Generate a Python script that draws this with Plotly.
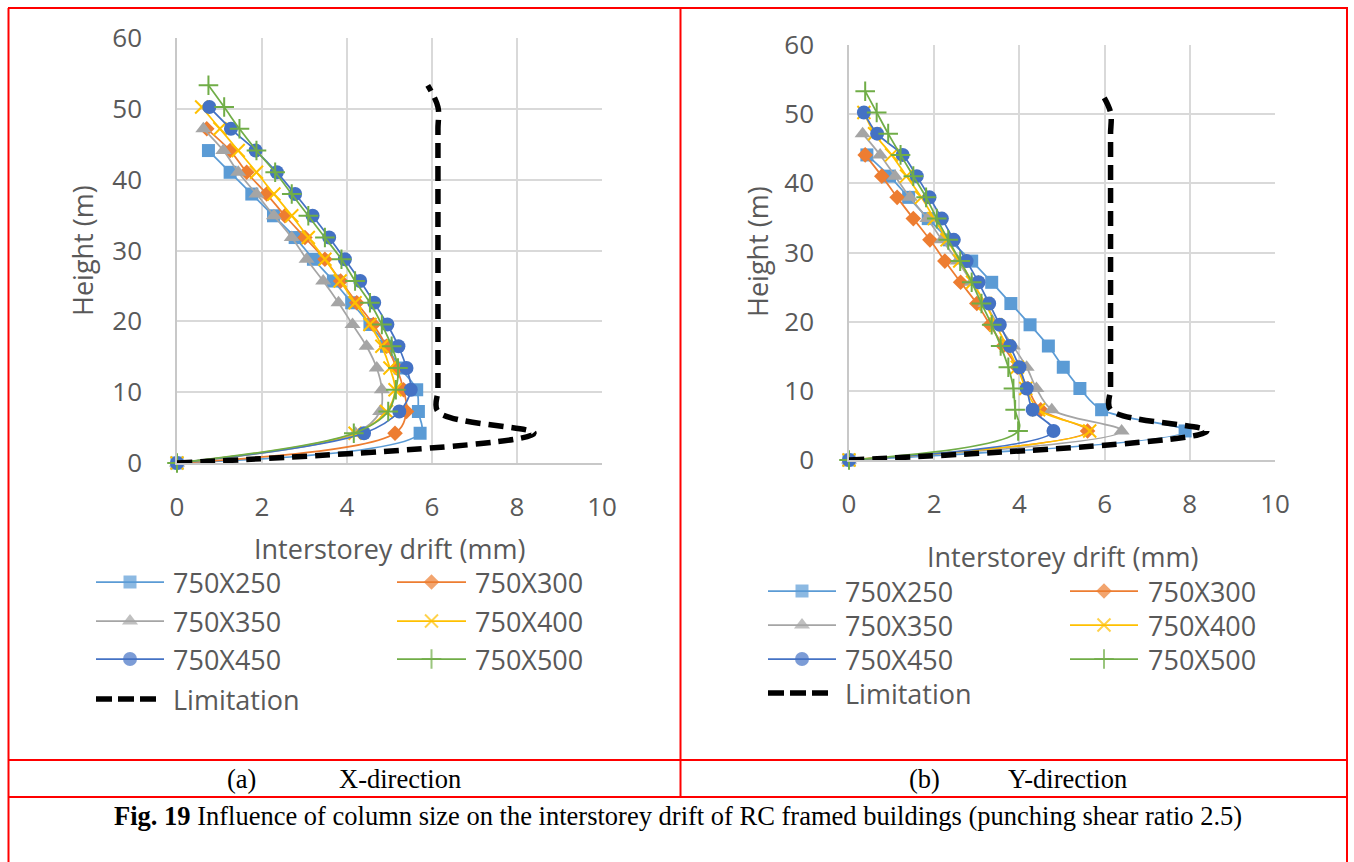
import plotly.graph_objects as go

# ---------------------------------------------------------------- data
# floor levels (m): 4.2 m ground storey, ~3.07 m typical storeys
height_m = [0, 4.2, 7.27, 10.34, 13.41, 16.48, 19.55, 22.62, 25.69, 28.76,
            31.83, 34.9, 37.97, 41.04, 44.11, 47.18, 50.25, 53.32]

series_names = ["750X250", "750X300", "750X350", "750X400", "750X450", "750X500"]

# interstorey drift (mm), X-direction
x_750x250 = [0, 5.72, 5.68, 5.64, 5.25, 4.93, 4.54, 4.11, 3.68, 3.21, 2.78, 2.27, 1.76, 1.25, 0.74]
x_750x300 = [0, 5.13, 5.40, 5.33, 5.17, 4.93, 4.62, 4.23, 3.85, 3.48, 3.01, 2.54, 2.11, 1.64, 1.25, 0.70]
x_750x350 = [0, 4.20, 4.78, 4.82, 4.70, 4.46, 4.13, 3.80, 3.44, 3.05, 2.70, 2.28, 1.87, 1.44, 1.09, 0.62]
x_750x400 = [0, 4.19, 4.93, 5.13, 5.01, 4.82, 4.54, 4.19, 3.84, 3.48, 3.09, 2.70, 2.28, 1.87, 1.44, 1.01, 0.58]
x_750x450 = [0, 4.40, 5.23, 5.50, 5.40, 5.21, 4.95, 4.64, 4.31, 3.95, 3.58, 3.19, 2.78, 2.35, 1.85, 1.27, 0.76]
x_750x500 = [0, 4.16, 4.97, 5.15, 5.20, 5.05, 4.82, 4.54, 4.19, 3.87, 3.48, 3.09, 2.70, 2.31, 1.87, 1.47, 1.11, 0.74]

# interstorey drift (mm), Y-direction
y_750x250 = [0, 7.89, 5.93, 5.42, 5.03, 4.68, 4.25, 3.80, 3.35, 2.88, 2.35, 1.86, 1.40, 0.95, 0.42]
y_750x300 = [0, 5.60, 4.50, 4.20, 3.95, 3.62, 3.31, 3.00, 2.62, 2.25, 1.90, 1.51, 1.13, 0.77, 0.38]
y_750x350 = [0, 6.40, 4.76, 4.40, 4.17, 3.85, 3.50, 3.20, 2.88, 2.55, 2.18, 1.84, 1.43, 1.08, 0.73, 0.32]
y_750x400 = [0, 5.65, 4.45, 4.15, 3.95, 3.70, 3.45, 3.20, 2.90, 2.60, 2.30, 2.00, 1.70, 1.35, 1.00, 0.60, 0.35]
y_750x450 = [0, 4.80, 4.31, 4.17, 4.00, 3.78, 3.54, 3.29, 3.04, 2.76, 2.46, 2.18, 1.89, 1.59, 1.26, 0.66, 0.35]
y_750x500 = [0, 3.97, 3.90, 3.86, 3.74, 3.56, 3.35, 3.11, 2.88, 2.61, 2.33, 2.06, 1.81, 1.51, 1.21, 0.92, 0.65, 0.38]

# code drift limit (mm)
limitation = [0, 8.4, 6.14, 6.14, 6.14, 6.14, 6.14, 6.14, 6.14, 6.14,
              6.14, 6.14, 6.14, 6.14, 6.14, 6.14, 6.14, 5.9]

x_ticks = [0, 2, 4, 6, 8, 10]
y_ticks = [0, 10, 20, 30, 40, 50, 60]

# ---------------------------------------------------------------- style
W, H = 1354, 862
colors = ["#5B9BD5", "#ED7D31", "#A5A5A5", "#FFC000", "#4472C4", "#70AD47"]
symbols = ["square", "diamond", "triangle-up", "x-thin", "circle", "cross-thin"]
sizes = [13, 12, 14, 13, 14, 14]
text_grey = "#595959"
grid_grey = "#D9D9D9"
axis_grey = "#C8C8C8"
tick_font = dict(family="Open Sans", size=26, color=text_grey)
serif = "Liberation Serif"


def marker_style(i, size=None):
    s = sizes[i] if size is None else size
    if symbols[i] in ("x-thin", "cross-thin"):
        return dict(symbol=symbols[i], size=s, color=colors[i],
                    line=dict(color=colors[i], width=2))
    return dict(symbol=symbols[i], size=s, color=colors[i], line=dict(width=0))


fig = go.Figure()

panels = [
    ("x", "y", [x_750x250, x_750x300, x_750x350, x_750x400, x_750x450, x_750x500]),
    ("x2", "y2", [y_750x250, y_750x300, y_750x350, y_750x400, y_750x450, y_750x500]),
]
for xa, ya, drifts in panels:
    for i, d in enumerate(drifts):
        fig.add_trace(go.Scatter(
            x=d, y=height_m[:len(d)], xaxis=xa, yaxis=ya,
            mode="lines+markers", name=series_names[i], showlegend=False,
            line=dict(color=colors[i], width=1.75, shape="spline", smoothing=1),
            marker=marker_style(i), cliponaxis=False))
    fig.add_trace(go.Scatter(
        x=limitation, y=height_m, xaxis=xa, yaxis=ya, mode="lines",
        name="Limitation", showlegend=False,
        line=dict(color="black", width=5.5, dash="15px,8px", shape="spline", smoothing=1),
        cliponaxis=False))

# ---------------------------------------------------------------- hand-placed legends (pixel overlay axis)
def legend_block(col_x, text_x, rows, lim_span, fsize):
    lfont = dict(family="Open Sans", size=fsize, color=text_grey)
    for i in range(6):
        r, c = divmod(i, 2)
        x0, x1 = col_x[c]
        yy = rows[r]
        fig.add_trace(go.Scatter(
            x=[x0, (x0 + x1) / 2, x1], y=[yy, yy, yy], xaxis="x3", yaxis="y3",
            mode="lines+markers", showlegend=False, hoverinfo="skip",
            line=dict(color=colors[i], width=1.75),
            marker={**marker_style(i), "size": [0, sizes[i], 0]}))
        fig.add_annotation(x=text_x[c], y=yy, xref="x3", yref="y3", text=series_names[i],
                           showarrow=False, xanchor="left", yanchor="middle",
                           borderpad=0, font=lfont)
    fig.add_trace(go.Scatter(
        x=list(lim_span), y=[rows[3], rows[3]], xaxis="x3", yaxis="y3", mode="lines",
        showlegend=False, hoverinfo="skip",
        line=dict(color="black", width=5.5, dash="16px,6px")))
    fig.add_annotation(x=text_x[0], y=rows[3], xref="x3", yref="y3", text="Limitation",
                       showarrow=False, xanchor="left", yanchor="middle",
                       borderpad=0, font=lfont)


legend_block([(96, 164), (397, 466)], [172, 474], [582, 621, 659, 699], (96, 158), 27)
legend_block([(768, 836), (1070, 1138)], [844, 1147], [591, 625, 659, 693], (768, 830), 27)

# axis titles
title_font = dict(family="Open Sans", size=27, color=text_grey)
for (tx, ty, txt, ang) in [(82, 251, "Height (m)", -90), (389.5, 548, "Interstorey drift (mm)", 0),
                           (757, 252, "Height (m)", -90), (1062, 556, "Interstorey drift (mm)", 0)]:
    fig.add_annotation(x=tx, y=ty, xref="x3", yref="y3", text=txt, textangle=ang,
                       showarrow=False, xanchor="center", yanchor="middle", font=title_font)

# sub-captions and figure caption
cap_font = dict(family=serif, size=26.5, color="black")
fig.add_annotation(x=241, y=779, xref="x3", yref="y3", text="(a)", showarrow=False,
                   xanchor="center", yanchor="middle", font=cap_font)
fig.add_annotation(x=337, y=779, xref="x3", yref="y3", text="X-direction", showarrow=False,
                   xanchor="left", yanchor="middle", font=cap_font)
fig.add_annotation(x=924, y=779, xref="x3", yref="y3", text="(b)", showarrow=False,
                   xanchor="center", yanchor="middle", font=cap_font)
fig.add_annotation(x=1006, y=779, xref="x3", yref="y3", text="Y-direction", showarrow=False,
                   xanchor="left", yanchor="middle", font=cap_font)
fig.add_annotation(x=677.5, y=816, xref="x3", yref="y3",
                   text="<b>Fig. 19</b> Influence of column size on the interstorey drift of RC framed buildings (punching shear ratio 2.5)",
                   showarrow=False, xanchor="center", yanchor="middle", font=cap_font)

# red table rules
red = dict(color="#FF0000", width=2)
for (x0, y0, x1, y1) in [(8, 8, 1348, 8), (8.5, 8, 8.5, 862), (1347, 8, 1347, 862),
                         (680.5, 8, 680.5, 797), (8, 760, 1347, 760), (8, 797, 1347, 797)]:
    fig.add_shape(type="line", x0=x0, y0=y0, x1=x1, y1=y1, xref="x3", yref="y3", line=red)

# ---------------------------------------------------------------- axes
common_x = dict(range=[0, 10], tickvals=x_ticks, ticks="", showgrid=True, gridcolor=grid_grey,
                gridwidth=1.5, zeroline=False, showline=True, linecolor=axis_grey, linewidth=1.5,
                tickfont=tick_font, ticklabelstandoff=20, fixedrange=True, automargin=False)
common_y = dict(range=[0, 60], tickvals=y_ticks, ticks="", showgrid=True, gridcolor=grid_grey,
                gridwidth=1.5, zeroline=False, showline=True, linecolor=axis_grey, linewidth=1.5,
                tickfont=tick_font, ticklabelstandoff=28, fixedrange=True, automargin=False)

fig.update_layout(
    width=W, height=H, autosize=False,
    margin=dict(l=0, r=0, t=0, b=0, pad=0, autoexpand=False),
    paper_bgcolor="white", plot_bgcolor="rgba(0,0,0,0)",
    showlegend=False,
    xaxis=dict(domain=[177 / W, 602 / W], anchor="y", **common_x),
    yaxis=dict(domain=[1 - 463 / H, 1 - 38 / H], anchor="x", **common_y),
    xaxis2=dict(domain=[849 / W, 1275 / W], anchor="y2", **common_x),
    yaxis2=dict(domain=[1 - 460 / H, 1 - 45 / H], anchor="x2", **common_y),
    xaxis3=dict(domain=[0, 1], range=[0, W], anchor="y3", visible=False, fixedrange=True,
                automargin=False),
    yaxis3=dict(domain=[0, 1], range=[H, 0], anchor="x3", visible=False, fixedrange=True,
                automargin=False),
)

fig.write_html("out.html")
